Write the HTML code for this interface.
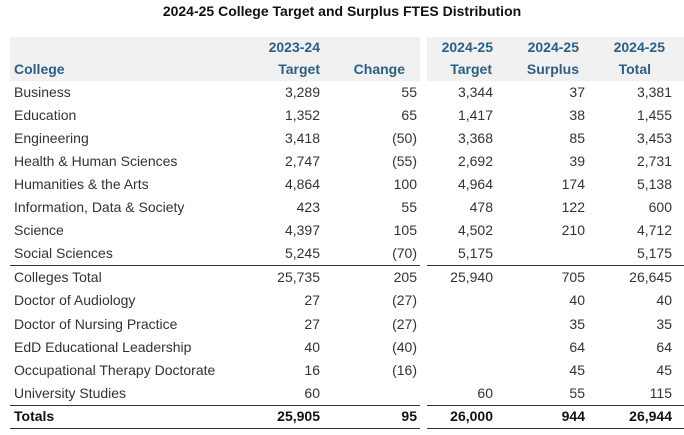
<!DOCTYPE html>
<html><head><meta charset="utf-8"><style>
body{margin:0;width:684px;height:435px;background:#fff;font-family:"Liberation Sans",sans-serif;color:#333;position:relative;overflow:hidden}
.t{position:absolute;top:3px;left:0;width:684px;text-align:center;font-weight:bold;font-size:14px;color:#111}
.hb{position:absolute;top:37px;height:44px;background:#f1f1f1}
.h{position:absolute;font-size:14px;font-weight:bold;color:#2b5f86;white-space:nowrap}
.r{position:absolute;font-size:14px;white-space:nowrap}
.ln{position:absolute;height:1px;background:#333}
.b{font-weight:bold;color:#111}
</style></head><body>
<div class="t">2024-25 College Target and Surplus FTES Distribution</div>
<div class="hb" style="left:10px;width:410px"></div>
<div class="hb" style="left:427px;width:257px"></div>
<div id="c"></div>
<script>
var c=document.getElementById('c'),h='';
var R=[320,417,493,585,672];
function hd(txt,x,y,left){h+='<div class="h" style="top:'+y+'px;'+(left?'left:'+x:'right:'+(684-x))+'px">'+txt+'</div>';}
hd('College',14,61,1);
hd('2023-24',320,39);hd('Target',320,61);hd('Change',405,61);
hd('2024-25',493,39);hd('Target',492,61);
hd('2024-25',579,39);hd('Surplus',579,61);
hd('2024-25',665,39);hd('Total',651,61);
var rows=[
['Business','3,289','55','3,344','37','3,381'],
['Education','1,352','65','1,417','38','1,455'],
['Engineering','3,418','(50)','3,368','85','3,453'],
['Health & Human Sciences','2,747','(55)','2,692','39','2,731'],
['Humanities & the Arts','4,864','100','4,964','174','5,138'],
['Information, Data & Society','423','55','478','122','600'],
['Science','4,397','105','4,502','210','4,712'],
['Social Sciences','5,245','(70)','5,175','','5,175'],
['Colleges Total','25,735','205','25,940','705','26,645'],
['Doctor of Audiology','27','(27)','','40','40'],
['Doctor of Nursing Practice','27','(27)','','35','35'],
['EdD Educational Leadership','40','(40)','','64','64'],
['Occupational Therapy Doctorate','16','(16)','','45','45'],
['University Studies','60','','60','55','115'],
['Totals','25,905','95','26,000','944','26,944']];
var ys=[84,107,130,153,176,199,222,245,269,292,316,339,362,385,408];
rows.forEach(function(r,i){var cl=i==14?'r b':'r';
h+='<div class="'+cl+'" style="top:'+ys[i]+'px;left:14px">'+r[0].replace('&','&amp;')+'</div>';
for(var j=1;j<6;j++){var x=R[j-1];if(j==2&&r[j].indexOf('(')==0)x+=0;
h+='<div class="'+cl+'" style="top:'+ys[i]+'px;right:'+(684-x)+'px">'+r[j]+'</div>';}
});
[265,405,428].forEach(function(y){h+='<div class="ln" style="top:'+y+'px;left:10px;width:410px"></div><div class="ln" style="top:'+y+'px;left:427px;width:257px"></div>';});
c.innerHTML=h;
</script>
</body></html>
